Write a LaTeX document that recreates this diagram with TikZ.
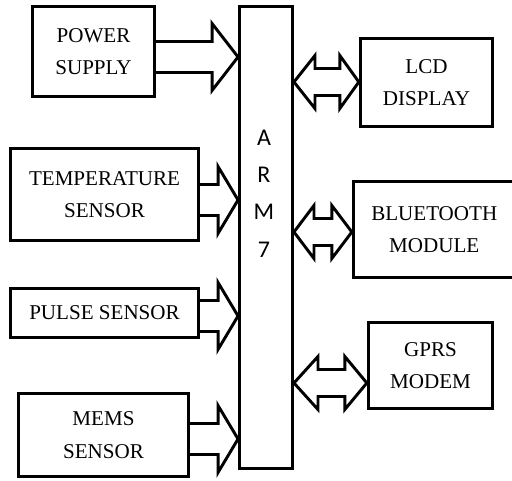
\documentclass[tikz,border=0pt]{standalone}
\usepackage{fontspec}
\setmainfont{Liberation Serif}
\newfontfamily\armfont{Carlito}
\usetikzlibrary{calc}

\newcommand{\inarrow}[3]{%
  \path (#1.east |- 0,#2) coordinate (s) (arm.west |- 0,#2) coordinate (t);
  \draw[blockarrow] ($(s)+(0,-15.5)$) -- ($(t)+(-#3,-15.5)$) -- ($(t)+(-#3,-33.5)$) -- (t)
    -- ($(t)+(-#3,33.5)$) -- ($(t)+(-#3,15.5)$) -- ($(s)+(0,15.5)$);}
\newcommand{\bothways}[4]{%
  \path (arm.east |- 0,#2) coordinate (s) (#1.west |- 0,#2) coordinate (t);
  \draw[blockarrow] (s) -- ($(s)+(#3,-26.5)$) -- ($(s)+(#3,-13.5)$) -- ($(t)+(-#4,-13.5)$) -- ($(t)+(-#4,-26.5)$) -- (t)
    -- ($(t)+(-#4,26.5)$) -- ($(t)+(-#4,13.5)$) -- ($(s)+(#3,13.5)$) -- ($(s)+(#3,26.5)$) -- cycle;}

\begin{document}
\begin{tikzpicture}[x=0.75pt, y=-0.75pt,
		block/.style={rectangle, draw, line width=2.5pt, inner sep=0pt, align=center, font=\fontsize{15.8}{24.5}\selectfont},
		boxsize/.style 2 args={minimum width=#1*0.75pt, minimum height=#2*0.75pt},
		blockarrow/.style={line width=2.2pt, line join=miter}
		]
		\useasboundingbox (0,0) rectangle (512,481);
		\node[block, boxsize={122}{90}] (pow) at (93.5,51.5) {POWER\\SUPPLY};
		\node[block, boxsize={188}{92}] (temp) at (104.5,194.5) {TEMPERATURE\\SENSOR};
		\node[block, boxsize={188}{49}] (pulse) at (104.5,313) {PULSE SENSOR};
		\node[block, boxsize={170}{83}] (mems) at (103.5,435) {MEMS\\SENSOR};
		\node[block, line width=2.2pt, boxsize={53}{462}] (arm) at (266,237.5) {};
		\node[font=\armfont\fontsize{18}{28}\selectfont, align=center] (armtext) at (264,193.5) {A\\R\\M\\7};
		\node[block, boxsize={132}{88}] (lcd) at (426.5,82.5) {LCD\\DISPLAY};
		\node[block, boxsize={161.5}{96}] (bt) at (434.25,229.5) {BLUETOOTH\\MODULE};
		\node[block, boxsize={124}{86}] (gprs) at (430.5,365.5) {GPRS\\MODEM};

		\inarrow{pow}{57}{26}
		\inarrow{temp}{200}{20}
		\inarrow{pulse}{316}{20}
		\inarrow{mems}{439}{20}
		\bothways{lcd}{82}{21}{19}
		\bothways{bt}{232}{20}{20}
		\bothways{gprs}{383}{24}{22}
	\end{tikzpicture}
\end{document}
